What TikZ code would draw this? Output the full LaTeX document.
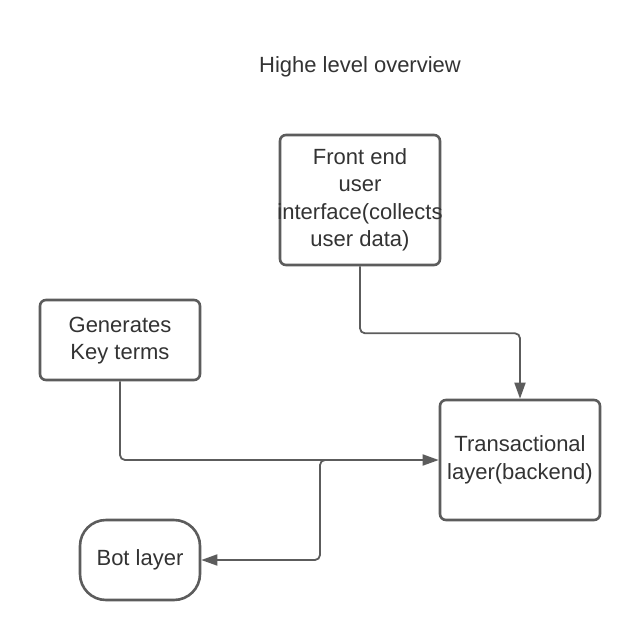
\documentclass[tikz,border=0pt]{standalone}
\usepackage{fontspec}
\setmainfont{Liberation Sans}
\usetikzlibrary{arrows.meta}
\definecolor{linegray}{HTML}{5C5C5C}
\definecolor{textgray}{HTML}{333333}
\tikzset{
  box/.style={draw=linegray, line width=2.6pt, rounded corners=6pt, fill=white,
    text=textgray, align=center, inner sep=0pt,
    font=\fontsize{22pt}{27.5pt}\selectfont},
  conn/.style={draw=linegray, line width=1.8pt, rounded corners=5pt,
    -{Triangle[length=16pt,width=11pt]}},
}
\begin{document}
\begin{tikzpicture}[x=1pt,y=-1pt]
\useasboundingbox (0,0) rectangle (640,640);
\node[text=textgray, font=\fontsize{22pt}{27.5pt}\selectfont] (title) at (360,67) {Highe level overview};
\node[box, minimum width=160pt, minimum height=130pt] (front) at (360,200)
  {Front end\\user\\\makebox[150pt][c]{interface(collects}\\user data)};
\node[box, minimum width=160pt, minimum height=80pt] (gen) at (120,340)
  {Generates\\Key terms\\[-24pt]};
\node[box, minimum width=160pt, minimum height=120pt] (trans) at (520,460)
  {Transactional\\layer(backend)};
\node[box, rounded corners=26pt, minimum width=120pt, minimum height=80pt] (bot) at (140,560)
  {Bot layer};
\coordinate (brA) at (332,460);
\coordinate (br) at (320,460);
\draw[conn] (front.south) -- ++(0,67) -| (trans.north);
\draw[conn] (gen.south) |- (trans.west);
\draw[conn] (brA) -- (br) |- (bot.east);
\end{tikzpicture}
\end{document}
